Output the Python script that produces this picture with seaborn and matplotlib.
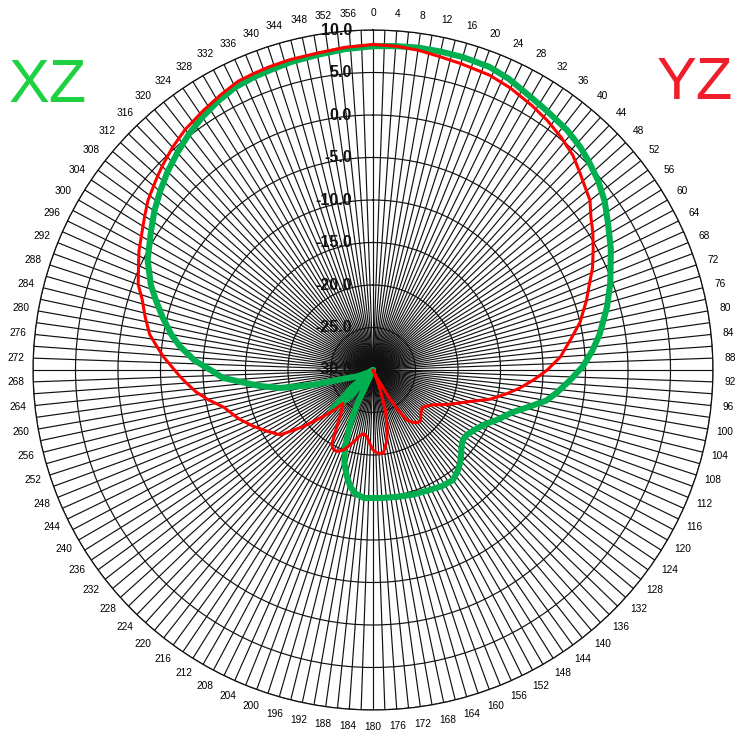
import numpy as np
import pandas as pd
import matplotlib
matplotlib.use("Agg")
import matplotlib.pyplot as plt
import seaborn as sns

# XZ cut (green), angle in degrees, gain in dB
xz_angle = [0, 4, 8, 12, 16, 21, 25, 30, 34, 39, 43, 46, 50, 54, 58, 63, 66, 70,
            75, 81, 85, 89, 93, 97, 100, 103, 107, 112, 116, 121, 125, 128, 131,
            134, 137, 140, 144, 149, 155, 162, 169, 176, 184, 188, 191, 194, 197,
            200, 203, 205, 209, 214, 220, 226, 231, 236, 242, 248, 252.5, 256, 259,
            262, 264, 267, 270, 273, 277, 280, 284, 288, 291, 296, 299, 302, 306,
            310, 314, 318, 322, 326, 330, 334, 338, 341, 345, 350, 355, 360]
xz_gain = [8.1, 8.2, 8.3, 8.3, 8.3, 8.2, 7.8, 7.1, 6.7, 6.3, 5.8, 5.3, 4.6, 3.7,
           2.6, 1.4, 0.6, -0.3, -1.5, -3.0, -4.1, -5.3, -6.8, -8.2, -9.3, -11.0,
           -12.9, -14.3, -15.4, -16.2, -16.6, -16.6, -16.2, -15.6, -15.0, -14.5,
           -14.0, -14.1, -14.4, -14.6, -14.8, -14.9, -14.9, -15.3, -16.0, -17.2,
           -18.5, -20.3, -23.2, -25.5, -30.0, -30.0, -26.0, -23.2, -27.0, -30.0,
           -29.3, -28.0, -26.8, -22.8, -18.9, -16.5, -15.1, -12.3, -10.9, -9.0,
           -7.1, -5.9, -4.5, -3.1, -2.0, -0.5, 0.1, 0.8, 1.8, 2.7, 3.6, 4.4, 5.2,
           5.9, 6.5, 7.0, 7.2, 7.3, 7.5, 7.65, 7.9, 8.1]

# YZ cut (red)
yz_angle = [0, 4, 8, 12, 16, 21.6, 26, 31, 35, 39, 43, 46.5, 49, 52, 55, 58, 61.4,
            65, 68, 72, 77, 81, 86, 90, 93.6, 97, 100, 104, 108, 112, 115, 120, 124,
            127, 130, 134, 137, 140, 143, 146, 148, 150, 153, 155, 158, 160, 163,
            166, 169, 173, 177, 180, 183, 185, 188, 191, 194, 197, 200, 204, 207,
            209, 212, 216, 219, 222, 224, 227, 231, 235, 240, 245, 250, 256, 260,
            263, 266, 268, 271, 273.6, 276, 279, 283, 287, 290, 294, 297, 300.6,
            304, 307, 311, 314, 318, 322, 327, 331, 335, 338, 341, 345, 350, 355,
            360]
yz_gain = [8.3, 8.2, 8.0, 7.7, 7.5, 7.3, 6.9, 6.3, 5.8, 5.2, 4.5, 3.6, 3.0, 2.4,
           1.3, 0.5, -0.5, -1.5, -2.5, -3.6, -5.0, -6.4, -7.9, -9.5, -11.1, -12.6,
           -14.0, -15.8, -18.0, -19.5, -20.4, -21.8, -22.4, -22.7, -22.6, -22.2,
           -21.8, -21.9, -22.3, -22.9, -24.5, -26.5, -29.0, -30.0, -29.0, -27.5,
           -25.0, -23.1, -21.5, -20.1, -20.2, -20.6, -21.5, -22.1, -22.4, -22.2,
           -21.5, -20.8, -20.0, -19.5, -19.6, -20.0, -21.8, -23.5, -24.3, -24.7,
           -23.5, -22.0, -19.4, -16.7, -15.6, -14.4, -13.2, -11.9, -10.2, -9.0,
           -8.0, -7.3, -6.3, -5.3, -4.5, -3.4, -2.5, -1.6, -0.6, 0.2, 0.9, 1.6,
           2.4, 3.15, 3.9, 4.5, 5.25, 5.9, 6.5, 7.0, 7.5, 7.6, 7.7, 7.8, 7.85, 8.1,
           8.3]

ring_values = [-30, -25, -20, -15, -10, -5, 0, 5, 10]
angle_ticks = list(range(0, 360, 2))

fig = plt.figure(figsize=(7.42, 7.40), dpi=100)
ax = fig.add_axes([0.0445, 0.0405, 0.9164, 0.919], projection="polar")
ax.set_theta_zero_location("N")
ax.set_theta_direction(-1)

xz = pd.DataFrame({"theta": np.deg2rad(xz_angle), "gain": xz_gain})
yz = pd.DataFrame({"theta": np.deg2rad(yz_angle), "gain": yz_gain})
sns.lineplot(data=xz, x="theta", y="gain", sort=False, ax=ax,
             color="#00b050", linewidth=4.4, zorder=5)
sns.lineplot(data=yz, x="theta", y="gain", sort=False, ax=ax,
             color="#ff0000", linewidth=2.2, zorder=6)

ax.set_ylim(-30, 10)
ax.set_yticks(ring_values)
ax.set_yticklabels([])
ax.set_xticks(np.deg2rad(angle_ticks))
ax.set_xticklabels([str(a) if a % 4 == 0 else "" for a in angle_ticks],
                   fontsize=7.3, family="Liberation Sans")
ax.tick_params(axis="x", pad=2)
ax.grid(True, color="#111111", linewidth=0.85)
ax.spines["polar"].set_color("#111111")
ax.spines["polar"].set_linewidth(0.9)
ax.set_xlabel("")
ax.set_ylabel("")

# radial value labels, right aligned just left of the 0 degree line
for v in ring_values:
    ax.annotate(f"{v:.1f}", xy=(0, v), xytext=(-21, 0), textcoords="offset pixels",
                ha="right", va="center", fontsize=11.5, fontweight="bold",
                family="Liberation Sans", color="#111111", zorder=10)

fig.text(0.011, 0.883, "XZ", color="#1fd040", fontsize=44,
         family="Liberation Sans", va="center", ha="left")
fig.text(0.885, 0.887, "YZ", color="#ee1f2a", fontsize=43,
         family="Liberation Sans", va="center", ha="left")

fig.savefig("out.png", dpi=100)
